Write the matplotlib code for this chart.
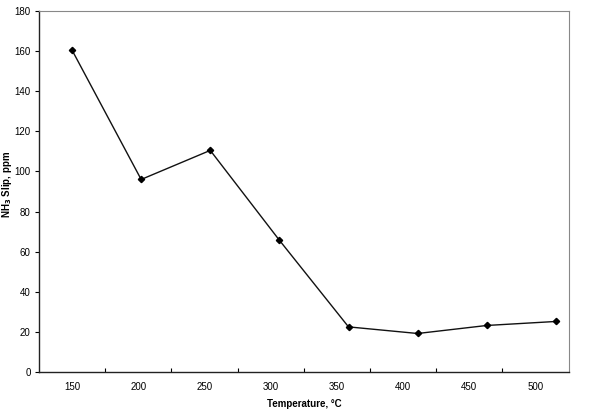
import matplotlib
matplotlib.use("Agg")
import matplotlib.pyplot as plt
import numpy as np

plt.rcParams['font.family'] = ['Liberation Sans', 'DejaVu Sans']

categories = ["150", "200", "250", "300", "350", "400", "450", "500"]
nh3_slip = [160.5, 96, 110.5, 65.7, 22.5, 19.2, 23.2, 25.2]
yticks = [0, 20, 40, 60, 80, 100, 120, 140, 160, 180]

fig = plt.figure(figsize=(5.94, 4.09), dpi=100)
ax = fig.add_axes([39/594, 1 - 372/409, (569-39)/594, (372-11)/409])

x = np.arange(len(categories))
ax.plot(x, nh3_slip, color='#111111', lw=1.0, marker='D', ms=3.2,
        mfc='black', mec='black')

lab_scale = 66.2 / 69.1
ax.set_xlim(-0.478, 7.19)
ax.set_ylim(0, 180)
ax.set_xticks(x * lab_scale)
ax.set_xticklabels(categories)
ax.set_xticks((np.arange(7) + 0.5) * lab_scale, minor=True)
ax.tick_params(axis='x', which='major', length=0, labelsize=7, pad=7)
ax.tick_params(axis='x', which='minor', length=3, direction='in', width=0.8)
ax.set_yticks(yticks)
ax.tick_params(axis='y', which='major', length=3, direction='out', labelsize=7, width=0.8, pad=3)

for s in ['left', 'bottom']:
    ax.spines[s].set_color('#222222')
    ax.spines[s].set_linewidth(1.0)
for s in ['top', 'right']:
    ax.spines[s].set_color('#888888')
    ax.spines[s].set_linewidth(0.8)
    ax.spines[s].set_linestyle((0, (3, 1)))

ax.set_xlabel('Temperature, °C', fontsize=7, fontweight='bold', labelpad=5)
ax.set_ylabel('NH$_\\mathbf{3}$ Slip, ppm', fontsize=7, fontweight='bold')
ax.yaxis.set_label_coords(-0.047, 0.52)

fig.savefig('out.png', dpi=100)
